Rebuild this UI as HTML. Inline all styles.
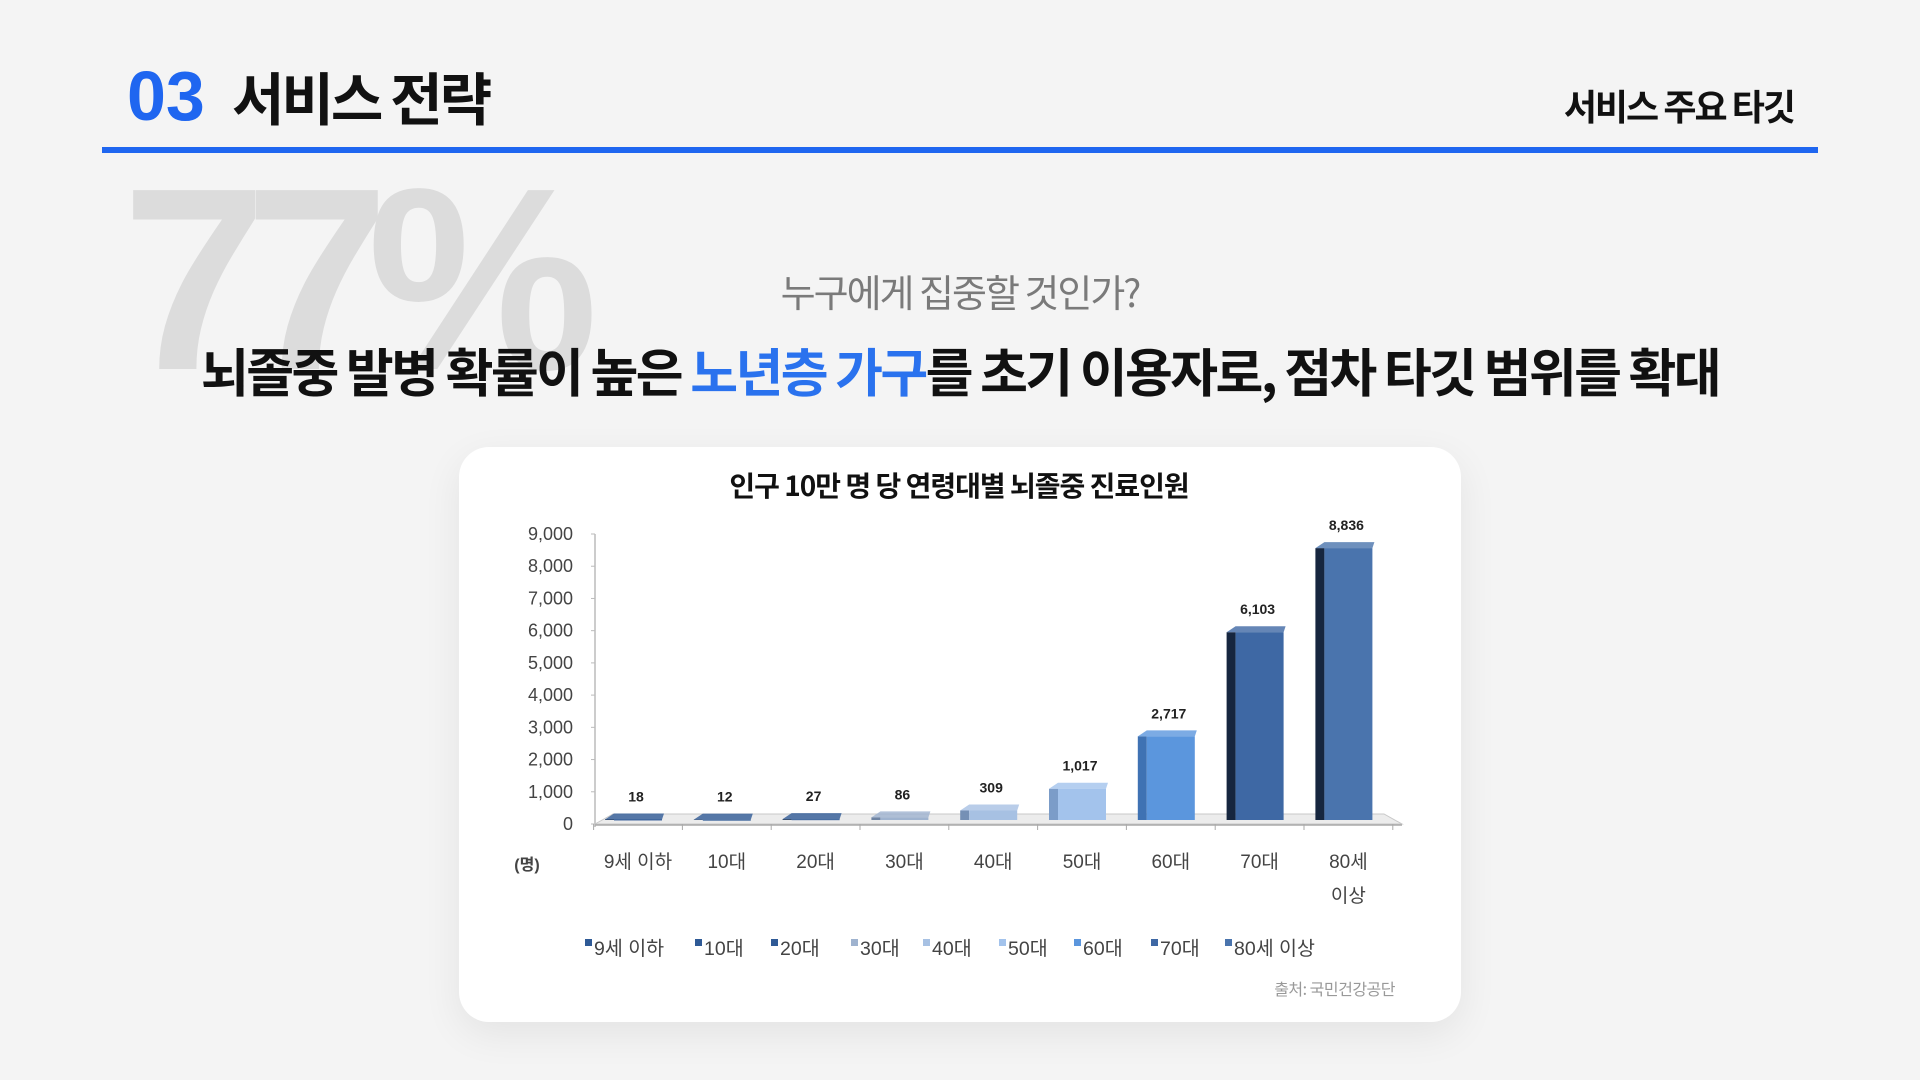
<!DOCTYPE html>
<html><head><meta charset="utf-8">
<style>
html,body{margin:0;padding:0}
body{width:1920px;height:1080px;background:#f4f4f4;position:relative;overflow:hidden;font-family:"Liberation Sans","Noto Sans CJK KR",sans-serif}
.abs{position:absolute;white-space:nowrap}
#num{left:127px;top:56px;font-size:70px;font-weight:bold;color:#1f66f0;letter-spacing:0px;line-height:80px}
#ttl{left:232px;top:56px;font-size:57px;font-weight:bold;color:#111;letter-spacing:-3px;line-height:80px;font-family:"Noto Sans CJK KR",sans-serif}
#rt{right:126px;top:82px;font-size:36px;font-weight:bold;color:#111;letter-spacing:-2px;line-height:46px;font-family:"Noto Sans CJK KR",sans-serif}
#rule{left:102px;top:147px;width:1716px;height:6px;background:#1f66f0}
#big{left:122px;top:150px;font-size:260px;font-weight:bold;color:#dcdcdc;letter-spacing:-22px;line-height:260px}
#sub{left:0;width:1920px;text-align:center;top:264px;font-size:38px;color:#7a7a7a;letter-spacing:-2px;font-family:"Noto Sans CJK KR",sans-serif;line-height:54px}
#head{left:0;width:1920px;text-align:center;top:334px;font-size:52px;font-weight:bold;color:#111;letter-spacing:-2.6px;font-family:"Noto Sans CJK KR",sans-serif;line-height:72px}
#head span{color:#2a72ee}
#card{left:459px;top:447px;width:1002px;height:575px;background:#fff;border-radius:30px;box-shadow:0 12px 40px rgba(0,0,0,0.07)}
</style></head>
<body>
<div class="abs" id="num">03</div>
<div class="abs" id="ttl">서비스 전략</div>
<div class="abs" id="rt">서비스 주요 타깃</div>
<div class="abs" id="rule"></div>
<div class="abs" id="big">77%</div>
<div class="abs" id="sub">누구에게 집중할 것인가?</div>
<div class="abs" id="head">뇌졸중 발병 확률이 높은 <span>노년층 가구</span>를 초기 이용자로, 점차 타깃 범위를 확대</div>
<div class="abs" id="card"></div>
<svg class="abs" id="chart" style="left:0;top:0" width="1920" height="1080"></svg>
<script>
const categories=["9세 이하","10대","20대","30대","40대","50대","60대","70대","80세 이상"];
const values=[18,12,27,86,309,1017,2717,6103,8836];
const valueLabels=["18","12","27","86","309","1,017","2,717","6,103","8,836"];
const yTicks=[0,1000,2000,3000,4000,5000,6000,7000,8000,9000];
const yTickLabels=["0","1,000","2,000","3,000","4,000","5,000","6,000","7,000","8,000","9,000"];
const colors=["#2f5a96","#2f5a96","#2f5a96","#9fb3cf","#a7c1e3","#a3c3ec","#5b96dd","#3e68a4","#4a74ad"];
const sides=["#1d3558","#1d3558","#1d3558","#6f84a3","#7590b5","#7b9cc8","#3f72b3","#16263f","#16263f"];

const NS="http://www.w3.org/2000/svg";
const svg=document.getElementById('chart');
const y0=824,yTop=534,xAxis=595,step=88.8;
function y(v){return y0-(v/9000)*(y0-yTop);}
function barH(v){return (v/9000)*(y0-yTop)*0.955;}
function x(i){return 638+i*step;}
function mk(t,a,txt){const e=document.createElementNS(NS,t);for(const k in a)e.setAttribute(k,a[k]);if(txt!==undefined)e.textContent=txt;svg.appendChild(e);return e;}
const F='"Liberation Sans","Noto Sans CJK KR",sans-serif';
let t=mk('text',{x:959,y:496,'text-anchor':'middle','font-size':28,'font-weight':'bold','font-family':'"Noto Sans CJK KR",sans-serif','letter-spacing':'-1',fill:'#111'},'인구 10만 명 당 연령대별 뇌졸중 진료인원');


let ax=mk('line',{x1:xAxis,y1:yTop,x2:xAxis,y2:y0+3,stroke:'#bbb','stroke-width':1.5});


yTicks.forEach((v,i)=>{
  mk('line',{x1:xAxis-4,y1:y(v),x2:xAxis,y2:y(v),stroke:'#bbb'});
  const l=mk('text',{x:573,y:y(v)+6,'text-anchor':'end','font-size':18,'font-family':F,fill:'#444'},yTickLabels[i]);
  
  
});
let fl=mk('polygon',{points:`${xAxis},${y0} ${xAxis+18},${y0-10} ${1384},${y0-10} ${1402},${y0}`,fill:'#ececec',stroke:'#c8c8c8'});


mk('line',{x1:xAxis,y1:y0+1,x2:1402,y2:y0+1,stroke:'#aaa','stroke-width':1.5});
for(let i=0;i<=9;i++){mk('line',{x1:x(i)-step/2,y1:y0,x2:x(i)-step/2,y2:y0+6,stroke:'#aaa'});}
const bw=48,dx=9,dy=6,base=y0-4;
values.forEach((v,i)=>{
  const h=barH(v);
  const fx=x(i)-bw/2, top=base-h;
  const g=document.createElementNS(NS,'g');svg.appendChild(g);
  
  
  const side=document.createElementNS(NS,'polygon');
  side.setAttribute('points',`${fx-dx},${top} ${fx},${top} ${fx},${base} ${fx-dx},${base}`);
  side.setAttribute('fill',sides[i]);g.appendChild(side);
  const front=document.createElementNS(NS,'rect');
  front.setAttribute('x',fx);front.setAttribute('y',top);front.setAttribute('width',bw);front.setAttribute('height',Math.max(h,1));
  front.setAttribute('fill',colors[i]);g.appendChild(front);
  const tp=document.createElementNS(NS,'polygon');
  tp.setAttribute('points',`${fx-dx},${top} ${fx},${top-dy} ${fx+bw+2},${top-dy} ${fx+bw},${top}`);
  tp.setAttribute('fill',colors[i]);tp.setAttribute('opacity','0.8');g.appendChild(tp);
  const vl=mk('text',{x:x(i)-2,y:top-dy-12,'text-anchor':'middle','font-size':14,'font-weight':'bold','font-family':F,fill:'#222'},valueLabels[i]);
  
  
  const parts=i==8?["80세","이상"]:[categories[i]];
  parts.forEach((p,j)=>{
    const cl=mk('text',{x:x(i),y:868+j*34,'text-anchor':'middle','font-size':19,'font-family':F,fill:'#444'},p);
    
    
  });
});
let un=mk('text',{x:527,y:870,'text-anchor':'middle','font-size':16,'font-weight':'bold','font-family':F,fill:'#444'},'(명)');


const lx=[585,695,771,851,923,999,1074,1151,1225];
categories.forEach((c,i)=>{
  mk('rect',{x:lx[i],y:939,width:7,height:7,fill:colors[i]});
  const lt=mk('text',{x:lx[i]+9,y:955,'font-size':19.5,'font-family':F,fill:'#444'},c);
  
  
});
let src=mk('text',{x:1395,y:995,'text-anchor':'end','font-size':16,'font-family':'"Noto Sans CJK KR",sans-serif','letter-spacing':'-0.5',fill:'#999'},'출처: 국민건강공단');


</script>
</body></html>
